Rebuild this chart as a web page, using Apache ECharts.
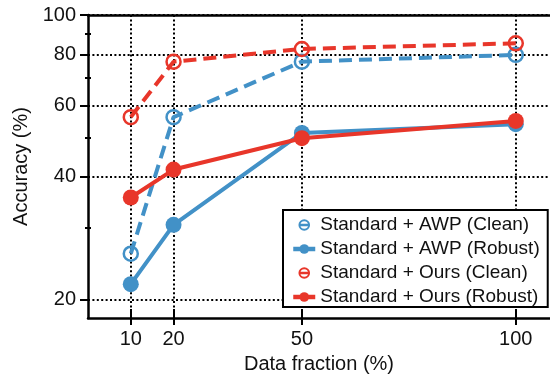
<!DOCTYPE html>
<html>
<head>
<meta charset="utf-8">
<script src="https://cdn.jsdelivr.net/npm/echarts@6/dist/echarts.min.js"></script>
<style>
  html, body { margin: 0; padding: 0; background: #fff; }
  #chart { width: 550px; height: 379px; }
</style>
</head>
<body>
<div id="chart"></div>
<script>
// data fraction (%) on x
const fractions = [10, 20, 50, 100]
// accuracy (%)
const awpClean = [25.9, 56.1, 76.8, 79.8]
const awpRobust = [21.8, 30.5, 51.3, 53.9]
const oursClean = [56.1, 76.8, 82.5, 85.2]
const oursRobust = [35.6, 41.7, 49.8, 54.9]
const yMajor = [20, 40, 60, 80, 100]
const yMinor = [30, 50, 70, 90]

const blue = '#4291c7'
const red = '#e8362a'
const ink = '#111'
const font = 'Liberation Sans, Arial, sans-serif'
const dotted = { color: '#000', width: 2, type: [2, 2.4] }

function pairs(vals) {
  return fractions.map((f, i) => [f, vals[i]])
}

function cleanSeries(name, color, vals) {
  return {
    name: name,
    type: 'line',
    data: pairs(vals),
    symbol: 'circle',
    symbolSize: 14,
    itemStyle: { color: 'transparent', borderColor: color, borderWidth: 2.5 },
    lineStyle: { color: color, width: 4, type: [13, 7] },
    z: 3
  }
}

function robustSeries(name, color, vals) {
  return {
    name: name,
    type: 'line',
    data: pairs(vals),
    symbol: 'circle',
    symbolSize: 16,
    itemStyle: { color: color },
    lineStyle: { color: color, width: 4 },
    z: 4
  }
}

const xBase = { type: 'value', min: 0, max: 108, gridIndex: 0 }
const yBase = { type: 'log', logBase: 10, min: 18, max: 100, gridIndex: 0 }

const option = {
  animation: false,
  grid: { left: 88, top: 15, right: 0, bottom: 60, containLabel: false },
  xAxis: [
    Object.assign({}, xBase, {
      position: 'bottom',
      name: 'Data fraction (%)',
      nameLocation: 'middle',
      nameGap: 36,
      nameMoveOverlap: false,
      nameTextStyle: { fontFamily: font, fontSize: 20, color: ink },
      axisLine: { show: true, onZero: false, lineStyle: { color: '#000', width: 2.5 } },
      axisTick: { show: true, length: 7, customValues: fractions, lineStyle: { color: '#000', width: 2 } },
      axisLabel: { customValues: fractions, margin: 11, fontFamily: font, fontSize: 20, color: ink },
      splitLine: { show: true, lineStyle: dotted }
    }),
    Object.assign({}, xBase, {
      position: 'bottom',
      offset: -9,
      axisLine: { show: false, onZero: false },
      axisTick: { show: true, length: 9, customValues: fractions, lineStyle: { color: '#000', width: 2 } },
      axisLabel: { show: false },
      splitLine: { show: false }
    }),
    Object.assign({}, xBase, {
      position: 'top',
      axisLine: { show: true, onZero: false, lineStyle: { color: '#000', width: 2.5 } },
      axisTick: { show: false },
      axisLabel: { show: false },
      splitLine: { show: false }
    })
  ],
  yAxis: [
    Object.assign({}, yBase, {
      position: 'left',
      name: 'Accuracy (%)',
      nameLocation: 'middle',
      nameGap: 53,
      nameTextStyle: { fontFamily: font, fontSize: 20, color: ink },
      axisLine: { show: true, onZero: false, lineStyle: { color: '#000', width: 2.5 } },
      axisTick: { show: true, length: 8, customValues: yMajor, lineStyle: { color: '#000', width: 2 } },
      axisLabel: { customValues: yMajor, margin: 12, fontFamily: font, fontSize: 20, color: ink },
      splitLine: { show: true, lineStyle: dotted }
    }),
    Object.assign({}, yBase, {
      position: 'left',
      offset: -3,
      axisLine: { show: false, onZero: false },
      axisTick: { show: true, length: 6, customValues: yMinor, lineStyle: { color: '#000', width: 2 } },
      axisLabel: { show: false },
      splitLine: { show: false }
    })
  ],
  legend: {
    orient: 'vertical',
    left: 283,
    top: 210,
    width: 265,
    padding: [5, 8, 0, 8],
    itemGap: 4,
    itemWidth: 22,
    itemHeight: 12,
    backgroundColor: '#fff',
    borderColor: '#000',
    borderWidth: 2,
    borderRadius: 0,
    textStyle: { fontFamily: font, fontSize: 19, color: ink, lineHeight: 20 },
    data: [
      { name: 'Standard + AWP (Clean)', lineStyle: { type: [0, 6, 10, 20], width: 2.5 } },
      { name: 'Standard + AWP (Robust)', lineStyle: { width: 4.5 } },
      { name: 'Standard + Ours (Clean)', lineStyle: { type: [0, 6, 10, 20], width: 2.5 } },
      { name: 'Standard + Ours (Robust)', lineStyle: { width: 4.5 } }
    ]
  },
  series: [
    cleanSeries('Standard + AWP (Clean)', blue, awpClean),
    robustSeries('Standard + AWP (Robust)', blue, awpRobust),
    cleanSeries('Standard + Ours (Clean)', red, oursClean),
    robustSeries('Standard + Ours (Robust)', red, oursRobust)
  ]
}

const myChart = echarts.init(document.getElementById('chart'))
myChart.setOption(option)
window.onresize = myChart.resize
</script>
</body>
</html>
